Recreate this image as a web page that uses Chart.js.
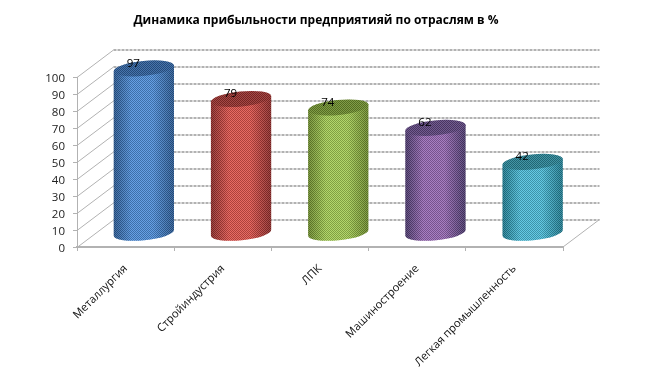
<!DOCTYPE html>
<html>
<head>
<meta charset="utf-8">
<title>Динамика прибыльности</title>
<script src="https://cdn.jsdelivr.net/npm/chart.js@4"></script>
<style>
html, body { margin: 0; padding: 0; background: #fff; overflow: hidden; }
canvas { display: block; }
</style>
</head>
<body>
<canvas id="chart" width="632" height="388"></canvas>
<script>
const categories = ['Металлургия', 'Стройиндустрия', 'ЛПК', 'Машиностроение', 'Легкая промышленность'];
const profitValues = [97, 79, 74, 62, 42];
const chartTitle = 'Динамика прибыльности предприятияй по отраслям в %';

// edge, middle, top of each cylinder
const edgeColors = ['#2a5a94', '#8f2c2a', '#6d8c2c', '#4c3a6e', '#1f7d92'];
const middleColors = ['#5293e0', '#e4564f', '#a9d258', '#9c6dba', '#50c3e0'];
const topColors = ['#2f619f', '#98302d', '#6f8f2e', '#5e4680', '#2a8699'];

const gridColor = '#b2b2b2';
const depthX = 36.5;
const depthY = -27.5;

// the dithered look of the picture
function makeDither(ctx) {
    const tile = document.createElement('canvas');
    tile.width = 2;
    tile.height = 2;
    const t = tile.getContext('2d');
    t.fillStyle = 'rgba(0,0,0,0.24)';
    t.fillRect(0, 0, 1, 1);
    t.fillRect(1, 1, 1, 1);
    t.fillStyle = 'rgba(255,255,255,0.12)';
    t.fillRect(1, 0, 1, 1);
    t.fillRect(0, 1, 1, 1);
    return ctx.createPattern(tile, 'repeat');
}

const wallsPlugin = {
    id: 'walls',
    beforeDatasetsDraw(chart) {
        const ctx = chart.ctx;
        const y = chart.scales.y;
        const area = chart.chartArea;
        ctx.save();
        ctx.strokeStyle = gridColor;
        y.ticks.forEach(function (tick) {
            const py = Math.round(y.getPixelForValue(tick.value)) + 0.5;
            // side wall
            ctx.lineWidth = 1;
            ctx.setLineDash([]);
            ctx.beginPath();
            ctx.moveTo(area.left, py);
            ctx.lineTo(area.left + depthX, py + depthY);
            ctx.stroke();
            // back wall, dashed like the dither in the picture
            ctx.lineWidth = 2;
            ctx.setLineDash([3, 1]);
            ctx.beginPath();
            ctx.moveTo(area.left + depthX, py + depthY);
            ctx.lineTo(area.right + depthX, py + depthY);
            ctx.stroke();
        });
        // right edge of the floor
        ctx.lineWidth = 1;
        ctx.setLineDash([]);
        ctx.beginPath();
        ctx.moveTo(area.right, area.bottom);
        ctx.lineTo(area.right + depthX, area.bottom + depthY);
        ctx.stroke();
        ctx.restore();
    }
};

const cylinderPlugin = {
    id: 'cylinders',
    afterDatasetsDraw(chart) {
        const ctx = chart.ctx;
        const dither = makeDither(ctx);
        const tilt = -0.1;
        const bars = chart.getDatasetMeta(0).data;

        bars.forEach(function (bar, i) {
            const cx = bar.x + depthX / 2;
            const topY = bar.y + depthY / 2;
            const baseY = bar.base + depthY / 2;
            const a = bar.width / 2;
            const b = 7.5;
            const dx = a * Math.cos(tilt);
            const dy = a * Math.sin(tilt);

            const grad = ctx.createLinearGradient(cx - a, 0, cx + a, 0);
            grad.addColorStop(0, edgeColors[i]);
            grad.addColorStop(0.3, middleColors[i]);
            grad.addColorStop(0.65, middleColors[i]);
            grad.addColorStop(1, edgeColors[i]);

            ctx.save();
            ctx.beginPath();
            ctx.moveTo(cx - dx, topY - dy);
            ctx.lineTo(cx - dx, baseY - dy);
            ctx.ellipse(cx, baseY, a, b, tilt, Math.PI, 0, true);
            ctx.lineTo(cx + dx, topY + dy);
            ctx.closePath();
            ctx.fillStyle = grad;
            ctx.fill();
            ctx.fillStyle = dither;
            ctx.fill();

            ctx.beginPath();
            ctx.ellipse(cx, topY, a, b, tilt, 0, Math.PI * 2);
            ctx.fillStyle = topColors[i];
            ctx.fill();
            ctx.fillStyle = dither;
            ctx.fill();

            // value label sits left of the cylinder centre
            ctx.fillStyle = '#000';
            ctx.font = '11.5px "Open Sans"';
            ctx.textAlign = 'center';
            ctx.textBaseline = 'middle';
            ctx.fillText(String(profitValues[i]), cx - 10.5, topY - 5);
            ctx.restore();
        });
    }
};

new Chart(document.getElementById('chart').getContext('2d'), {
    type: 'bar',
    data: {
        labels: categories,
        datasets: [{
            data: profitValues,
            backgroundColor: 'transparent',
            barPercentage: 0.623,
            categoryPercentage: 1,
            yAxisID: 'y'
        }]
    },
    options: {
        responsive: false,
        animation: false,
        plugins: {
            legend: { display: false },
            tooltip: { enabled: false },
            title: {
                display: true,
                text: chartTitle,
                color: '#000',
                font: { family: '"Open Sans"', size: 12, weight: 'bold', lineHeight: 1.2 },
                padding: { top: 13, bottom: 49.6 }
            }
        },
        scales: {
            x: {
                afterFit(scale) { scale.height = 141; },
                grid: { drawOnChartArea: false, color: gridColor, tickLength: 4 },
                border: { color: gridColor, width: 2, dash: [3, 1] },
                ticks: {
                    autoSkip: false,
                    minRotation: 45,
                    maxRotation: 45,
                    padding: 11,
                    color: '#111',
                    font: { family: '"Open Sans"', size: 11.2 }
                }
            },
            y: {
                min: 0,
                max: 100,
                afterFit(scale) { scale.width = 77; },
                grid: { drawOnChartArea: false, color: gridColor, tickLength: 4 },
                border: { color: gridColor },
                ticks: {
                    stepSize: 10,
                    padding: 8,
                    labelOffset: 1.5,
                    color: '#222',
                    font: { family: '"Open Sans"', size: 11.5 }
                }
            },
            // empty axis, only keeps the room right of the plot
            spacer: {
                axis: 'y',
                position: 'right',
                afterFit(scale) { scale.width = 69; },
                grid: { display: false },
                border: { display: false },
                ticks: { display: false }
            }
        }
    },
    plugins: [wallsPlugin, cylinderPlugin]
});
</script>
</body>
</html>
